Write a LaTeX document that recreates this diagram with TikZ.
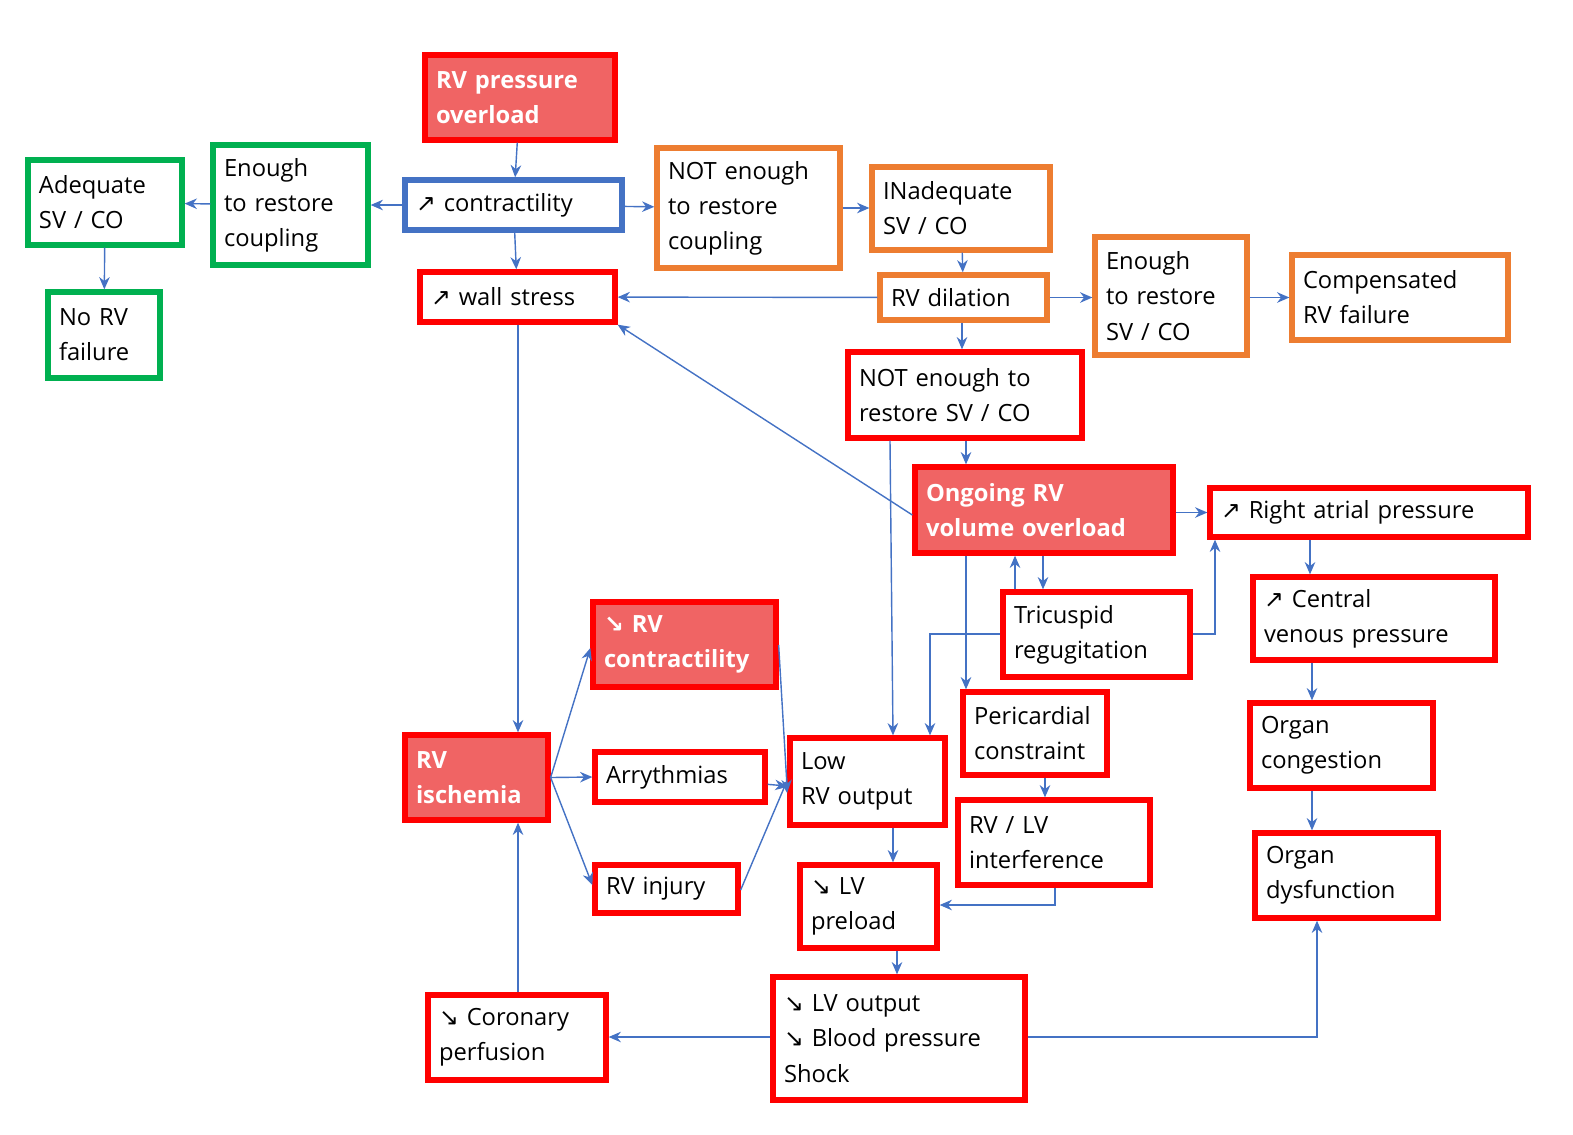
\documentclass[tikz,border=0pt]{standalone}
\usepackage{fontspec}
\setmainfont{Open Sans}
\newfontfamily\symf{DejaVu Sans}
\usetikzlibrary{arrows.meta}
\definecolor{rd}{RGB}{255,0,0}
\definecolor{rdfill}{RGB}{240,100,100}
\definecolor{gn}{RGB}{0,176,80}
\definecolor{bl}{RGB}{68,114,196}
\definecolor{og}{RGB}{237,125,49}
\newcommand{\up}{{\symf\char"2197}}
\newcommand{\dn}{{\symf\char"2198}}
\newcommand{\bx}[7]{%
 \pgfmathsetmacro\bw{(#4-#2)*0.02}\pgfmathsetmacro\bh{(#5-#3)*0.02}%
 \pgfmathsetmacro\tw{(#4-#2-22)*0.02}%
 \node[#6,minimum width=\bw cm,minimum height=\bh cm,text width=\tw cm] (#1) at ({(#2+#4)/2},{(#3+#5)/2}) {#7};}
\tikzset{
 base/.style={draw,line width=3pt,align=left,inner sep=0pt,font=\fontsize{13.5}{20}\selectfont,fill=white},
 rbox/.style={base,draw=rd},
 fbox/.style={base,draw=rd,fill=rdfill,text=white,font=\fontsize{13.5}{20}\selectfont\bfseries},
 gbox/.style={base,draw=gn},
 bbox/.style={base,draw=bl},
 obox/.style={base,draw=og},
 ar/.style={draw=bl,line width=0.8pt,-{Stealth[length=7pt,width=6pt]}}
}
\begin{document}
\begin{tikzpicture}[x=0.02cm,y=-0.02cm]
\useasboundingbox (0,0) rectangle (1573,1134);
\bx{press}{425}{55}{615}{140}{fbox}{RV pressure\\overload}
\bx{contr}{405}{180}{622}{230}{bbox}{\up\ contractility}
\bx{enough1}{213}{145}{368}{265}{gbox}{Enough\\to restore\\coupling}
\bx{adequate}{28}{160}{182}{245}{gbox}{Adequate\\SV / CO}
\bx{norv}{48}{292}{160}{378}{gbox}{No RV\\failure}
\bx{notenough1}{657}{148}{840}{268}{obox}{NOT enough\\to restore\\coupling}
\bx{inadeq}{872}{167}{1050}{250}{obox}{INadequate\\SV / CO}
\bx{wall}{420}{272}{615}{322}{rbox}{\up\ wall stress}
\bx{dilation}{880}{275}{1047}{320}{obox}{RV dilation}
\bx{enough2}{1095}{237}{1247}{355}{obox}{Enough\\to restore\\SV / CO}
\bx{comp}{1292}{255}{1508}{340}{obox}{Compensated\\RV failure}
\bx{notenough2}{848}{352}{1082}{438}{rbox}{NOT enough to\\restore SV / CO}
\bx{ongoing}{915}{467}{1173}{553}{fbox}{Ongoing RV\\volume overload}
\bx{rap}{1210}{488}{1528}{537}{rbox}{\up\ Right atrial pressure}
\bx{cvp}{1253}{577}{1495}{660}{rbox}{\up\ Central\\venous pressure}
\bx{tric}{1003}{592}{1190}{677}{rbox}{Tricuspid\\regugitation}
\bx{rvcontr}{593}{602}{776}{687}{fbox}{\dn\ RV\\contractility}
\bx{isch}{405}{735}{548}{820}{fbox}{RV\\ischemia}
\bx{arry}{595}{752}{765}{802}{rbox}{Arrythmias}
\bx{lowrv}{790}{738}{945}{825}{rbox}{Low\\RV output}
\bx{peri}{963}{692}{1107}{775}{rbox}{Pericardial\\constraint}
\bx{cong}{1250}{703}{1433}{788}{rbox}{Organ\\congestion}
\bx{rvlv}{958}{800}{1150}{885}{rbox}{RV / LV\\interference}
\bx{injury}{595}{865}{738}{913}{rbox}{RV injury}
\bx{lvpre}{800}{865}{937}{948}{rbox}{\dn\ LV\\preload}
\bx{dysf}{1255}{833}{1438}{918}{rbox}{Organ\\dysfunction}
\bx{coro}{428}{995}{606}{1080}{rbox}{\dn\ Coronary\\perfusion}
\bx{lvout}{773}{977}{1025}{1100}{rbox}{\dn\ LV output\\\dn\ Blood pressure\\Shock}
\draw[ar] (press) -- (contr);
\draw[ar] (contr) -- (enough1);
\draw[ar] (enough1) -- (adequate);
\draw[ar] (adequate) -- (norv);
\draw[ar] (contr) -- (notenough1);
\draw[ar] (notenough1.east|-0,208) -- (inadeq.west|-0,208);
\draw[ar] (contr) -- (wall);
\draw[ar] (inadeq) -- (dilation);
\draw[ar] (dilation) -- (wall);
\draw[ar] (dilation) -- (enough2.west|-dilation);
\draw[ar] (enough2.east|-comp) -- (comp);
\draw[ar] (dilation.south-|962,0) -- (notenough2.north-|962,0);
\draw[ar] (notenough2.south-|966,0) -- (ongoing.north-|966,0);
\draw[ar] (ongoing.west|-0,515) -- (wall.south east);
\draw[ar] (ongoing.east|-rap) -- (rap);
\draw[ar] (rap.south-|1310,0) -- (cvp.north-|1310,0);
\draw[ar] (cvp.south-|1312,0) -- (cong.north-|1312,0);
\draw[ar] (cong.south-|1312,0) -- (dysf.north-|1312,0);
\draw[ar] (tric.north-|1015,0) -- (ongoing.south-|1015,0);
\draw[ar] (ongoing.south-|1043,0) -- (tric.north-|1043,0);
\draw[ar] (tric.east|-0,634) -| (rap.south-|1215,0);
\draw[ar] (tric.west|-0,634) -| (lowrv.north-|930,0);
\draw[ar] (notenough2.south-|890,0) -- (lowrv.north-|893,0);
\draw[ar] (ongoing.south-|966,0) -- (peri.north-|966,0);
\draw[ar] (peri.south-|1045,0) -- (rvlv.north-|1045,0);
\draw[ar] (rvlv.south-|1055,0) |- (lvpre.east|-0,905);
\draw[ar] (wall.south-|518,0) -- (isch.north-|518,0);
\draw[ar] (isch.east) -- (rvcontr.west|-0,648);
\draw[ar] (isch.east) -- (arry.west);
\draw[ar] (isch.east) -- (injury.west|-0,885);
\draw[ar] (rvcontr.east|-0,645) -- (lowrv.west|-0,792);
\draw[ar] (arry) -- (lowrv.west|-0,786);
\draw[ar] (injury.east|-0,890) -- (lowrv.west|-0,780);
\draw[ar] (lowrv.south-|893,0) -- (lvpre.north-|893,0);
\draw[ar] (lvpre.south-|897,0) -- (lvout.north-|897,0);
\draw[ar] (lvout.west|-0,1037) -- (coro.east|-0,1037);
\draw[ar] (lvout.east|-0,1037) -| (dysf.south-|1317,0);
\draw[ar] (coro.north-|518,0) -- (isch.south-|518,0);
\end{tikzpicture}
\end{document}
